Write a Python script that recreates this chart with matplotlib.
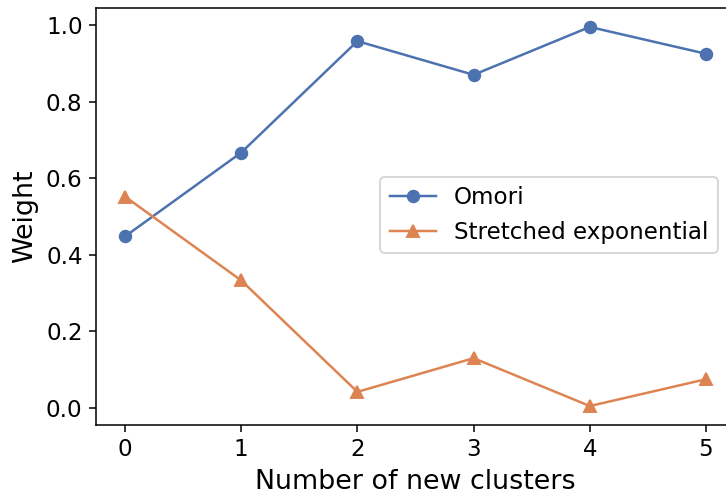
import matplotlib
matplotlib.use("Agg")
import matplotlib.pyplot as plt

n_clusters = [0, 1, 2, 3, 4, 5]
omori = [0.448, 0.667, 0.958, 0.870, 0.995, 0.925]
stretched = [0.552, 0.333, 0.042, 0.130, 0.005, 0.075]

blue = "#4C72B0"
orange = "#DD8452"

W, H = 726, 497
fig = plt.figure(figsize=(W / 138, H / 138), dpi=138)
# axes run a little past the right border of the figure
ax = fig.add_axes([96 / W, 1 - 425 / H, 639 / W, 417 / H])

ax.plot(n_clusters, omori, color=blue, marker="o", linewidth=1.3,
        label="Omori")
ax.plot(n_clusters, stretched, color=orange, marker="^", linewidth=1.3,
        label="Stretched exponential")

ax.set_xticks(n_clusters)
ax.set_xlim(-0.25, 5.25)
ax.set_yticks([0.0, 0.2, 0.4, 0.6, 0.8, 1.0])
ax.tick_params(labelsize=12)
ax.set_xlabel("Number of new clusters", fontsize=14)
ax.set_ylabel("Weight", fontsize=14)
ax.legend(fontsize=12, loc="center right",
          bbox_to_anchor=(729 / W, 1 - 215 / H), bbox_transform=fig.transFigure)

fig.savefig("out.png", dpi=138)
